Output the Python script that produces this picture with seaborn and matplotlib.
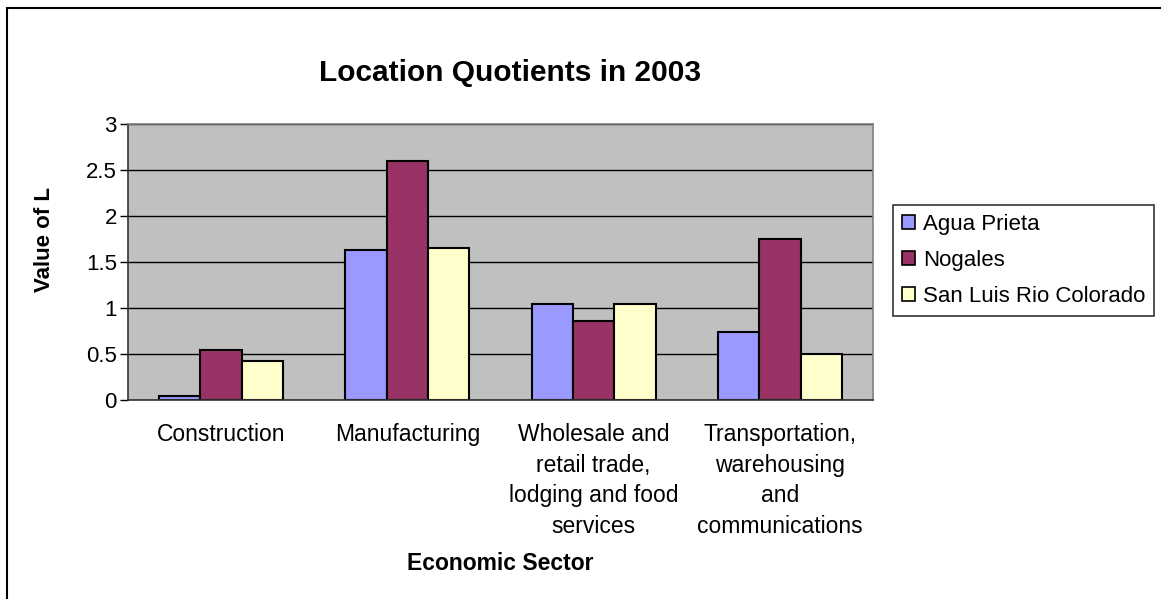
import matplotlib
matplotlib.use("Agg")
import matplotlib.pyplot as plt
import matplotlib.patches as mpatches
import seaborn as sns
import pandas as pd

sectors = ["Construction", "Manufacturing",
           "Wholesale and\nretail trade,\nlodging and food\nservices",
           "Transportation,\nwarehousing\nand\ncommunications"]
cities = ["Agua Prieta", "Nogales", "San Luis Rio Colorado"]
agua_prieta = [0.04, 1.63, 1.04, 0.74]
nogales = [0.54, 2.60, 0.86, 1.75]
san_luis = [0.42, 1.65, 1.04, 0.50]
yticks = [0, 0.5, 1, 1.5, 2, 2.5, 3]
ytick_labels = ["0", "0.5", "1", "1.5", "2", "2.5", "3"]
colors = ["#9999FF", "#993366", "#FFFFCC"]

rows = []
for city, vals in zip(cities, [agua_prieta, nogales, san_luis]):
    for s, v in zip(sectors, vals):
        rows.append({"sector": s, "city": city, "value": v})
df = pd.DataFrame(rows)

sns.set_style("white")
plt.rcParams["font.family"] = ["Liberation Sans", "DejaVu Sans"]
plt.rcParams["text.color"] = "black"
plt.rcParams["xtick.color"] = "black"
plt.rcParams["ytick.color"] = "black"
plt.rcParams["axes.labelcolor"] = "black"

W, H = 1161, 599
fig = plt.figure(figsize=(W / 100, H / 100), dpi=100)
ax = fig.add_axes([128 / W, 1 - 399.5 / H, (873 - 128) / W, (399.5 - 124) / H])
ax.set_facecolor("#C0C0C0")
ax.set_axisbelow(True)

sns.barplot(data=df, x="sector", y="value", hue="city", order=sectors,
            hue_order=cities, palette=colors, saturation=1, width=0.667,
            gap=0, edgecolor="black", linewidth=1.5, ax=ax)

ax.set_xlim(-0.5, 3.5)
ax.set_ylim(0, 3)
ax.set_yticks(yticks)
ax.set_yticklabels(ytick_labels, fontsize=16)
ax.yaxis.grid(True, color="black", linewidth=1)
ax.xaxis.grid(False)

ax.set_xticks(range(4))
ax.set_xticklabels(sectors, fontsize=16.5, linespacing=1.42)
ax.set_xticks([-0.5, 0.5, 1.5, 2.5, 3.5], minor=True)
ax.tick_params(axis="x", which="major", length=0, pad=17)
ax.tick_params(axis="x", which="minor", length=6, width=1, color="black", direction="out")
ax.tick_params(axis="y", length=6, width=1, color="black", direction="out", pad=2, left=True)

for side in ["top", "right"]:
    ax.spines[side].set_color("#808080")
    ax.spines[side].set_linewidth(1.2)
for side in ["left", "bottom"]:
    ax.spines[side].set_color("#333333")
    ax.spines[side].set_linewidth(1.2)

ax.set_xlabel("")
ax.set_ylabel("")
if ax.get_legend() is not None:
    ax.get_legend().remove()

fig.text(510 / W, 1 - 73 / H, "Location Quotients in 2003", fontsize=21.5,
         fontweight="bold", ha="center", va="center", color="black")
fig.text(500 / W, 1 - 564 / H, "Economic Sector", fontsize=16.5,
         fontweight="bold", ha="center", va="center", color="black")
fig.text(45 / W, 1 - 240 / H, "Value of L", fontsize=16, fontweight="bold",
         rotation=90, ha="center", va="center", color="black")

handles = [mpatches.Patch(facecolor=c, edgecolor="black", linewidth=1.2) for c in colors]
leg = fig.legend(handles, cities, loc="upper left",
                 bbox_to_anchor=(893 / W, 1 - 205 / H), bbox_transform=fig.transFigure,
                 fontsize=16, frameon=True, fancybox=False, shadow=False,
                 borderpad=0.4, labelspacing=0.68, handlelength=0.6,
                 handleheight=0.6, handletextpad=0.35, borderaxespad=0)
leg.get_frame().set_edgecolor("black")
leg.get_frame().set_linewidth(1.2)
for t in leg.get_texts():
    t.set_color("black")

border = mpatches.Rectangle((7 / W, -0.1), 1.2, 1 - 8 / H + 0.1,
                            transform=fig.transFigure, fill=False,
                            edgecolor="black", linewidth=1.5, clip_on=False)
fig.patches.append(border)

fig.savefig("out.png", dpi=100, facecolor="white")
